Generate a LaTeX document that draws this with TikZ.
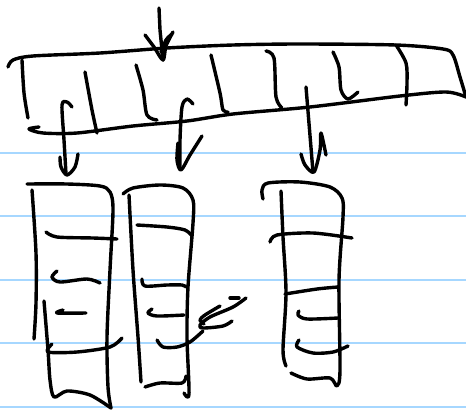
\documentclass[tikz,border=0pt]{standalone}
\usepackage{tikz}
\begin{document}
\begin{tikzpicture}[x=0.02cm,y=-0.02cm,
	ink/.style={black, line width=0.068cm, line cap=round, line join=round},
	rule/.style={blue!45!cyan!35, line width=0.045cm},
	fs/.style={smooth, tension=0.5}]
\useasboundingbox (0,0) rectangle (466,413);
\foreach \y in {153, 216, 280, 343, 407} {
\draw[rule] (0,\y) -- (466,\y);
}

% top arrow
\draw[ink] (159,8) -- (160,30) -- (163,60);
\draw[ink] plot[fs] coordinates {(145,35) (154,47) (163,60) (166,46) (173,32)};
\draw[ink] plot[fs] coordinates {(161,52) (166,40) (172,34)};

% band
\draw[ink] plot[fs] coordinates {(8,67) (13,60) (33,56) (100,53) (167,48) (233,45) (300,44) (396,45) (443,49) (453,55) (460,77) (466,97)};
\draw[ink] plot[fs] coordinates {(39,127) (29,129) (43,133) (77,133) (133,126) (187,121) (233,114) (310,107) (400,96) (446,92) (466,97)};
\draw[ink] plot[fs] coordinates {(22,60) (24,93) (28,118)};
\draw[ink] plot[fs] coordinates {(85,72) (92,110) (97,133)};
\draw[ink] plot[fs] coordinates {(136,65) (143,90) (147,115) (157,120)};
\draw[ink] plot[fs] coordinates {(211,55) (220,93) (223,110) (228,112)};
\draw[ink] plot[fs] coordinates {(266,51) (274,58) (276,97) (282,108)};
\draw[ink] plot[fs] coordinates {(333,52) (339,67) (341,90) (348,99) (358,92)};
\draw[ink] plot[fs] coordinates {(396,45) (406,63) (407,83) (406,105)};

% arrows down
\draw[ink] plot[fs] coordinates {(72,107) (67,102) (62,105) (64,140) (66,174)};
\draw[ink] plot[fs] coordinates {(60,157) (61,167) (67,175) (75,167) (78,154)};
\draw[ink] plot[fs] coordinates {(193,104) (187,99) (182,107) (180,140) (180,168)};
\draw[ink] plot[fs] coordinates {(178,143) (177,160) (181,170) (190,155) (202,136)};
\draw[ink] (306,87) -- (313,172);
\draw[ink] plot[fs] coordinates {(301,154) (305,165) (314,172) (320,150) (321,133) (326,155)};

% first column
\draw[ink] plot[fs] coordinates {(27,184) (67,184) (100,186) (110,192) (113,210) (110,270) (107,337) (108,387) (111,408)};
\draw[ink] plot[fs] coordinates {(32,190) (36,253) (36,303) (34,339)};
\draw[ink] plot[fs] coordinates {(44,301) (48,350) (50,380) (54,397) (67,391) (90,395) (111,408)};
\draw[ink] plot[fs] coordinates {(46,232) (57,237) (93,238) (117,239)};
\draw[ink] plot[fs] coordinates {(57,271) (52,277) (60,282) (87,279) (100,283)};
\draw[ink] plot[fs] coordinates {(63,310) (57,313) (86,313)};
\draw[ink] plot[fs] coordinates {(52,344) (48,352) (77,352) (110,347) (122,338)};

% second column
\draw[ink] plot[fs] coordinates {(123,194) (133,188) (160,185) (183,188) (193,200) (193,223) (188,287) (187,337) (189,394) (184,393)};
\draw[ink] plot[fs] coordinates {(129,195) (133,270) (138,337) (141,382)};
\draw[ink] plot[fs] coordinates {(145,387) (160,383) (182,383) (186,376)};
\draw[ink] plot[fs] coordinates {(137,225) (167,227) (185,230) (192,236)};
\draw[ink] plot[fs] coordinates {(142,279) (145,286) (167,285) (182,285) (186,287)};
\draw[ink] plot[fs] coordinates {(152,309) (148,313) (157,316) (184,315)};
\draw[ink] plot[fs] coordinates {(157,340) (163,347) (177,347) (190,342) (203,331)};

% scribble
\draw[ink] (230,298) -- (239,298);
\draw[ink] plot[fs] coordinates {(246,298) (233,307) (210,317) (200,325) (203,328) (223,326) (232,321)};
\draw[ink] plot[fs] coordinates {(220,306) (205,315) (200,320) (204,324)};

% third column
\draw[ink] plot[fs] coordinates {(263,199) (262,190) (268,183) (300,182) (330,187) (342,198) (343,217) (339,280) (340,370) (337,386) (330,378) (307,379) (291,373)};
\draw[ink] plot[fs] coordinates {(281,191) (283,237) (286,293) (283,350) (286,366)};
\draw[ink] plot[fs] coordinates {(270,242) (277,235) (313,233) (352,238)};
\draw[ink] plot[fs] coordinates {(285,294) (317,289) (338,287)};
\draw[ink] plot[fs] coordinates {(299,311) (298,315) (307,319) (338,318)};
\draw[ink] plot[fs] coordinates {(299,340) (297,347) (313,353) (333,352) (348,346)};
\end{tikzpicture}
\end{document}
